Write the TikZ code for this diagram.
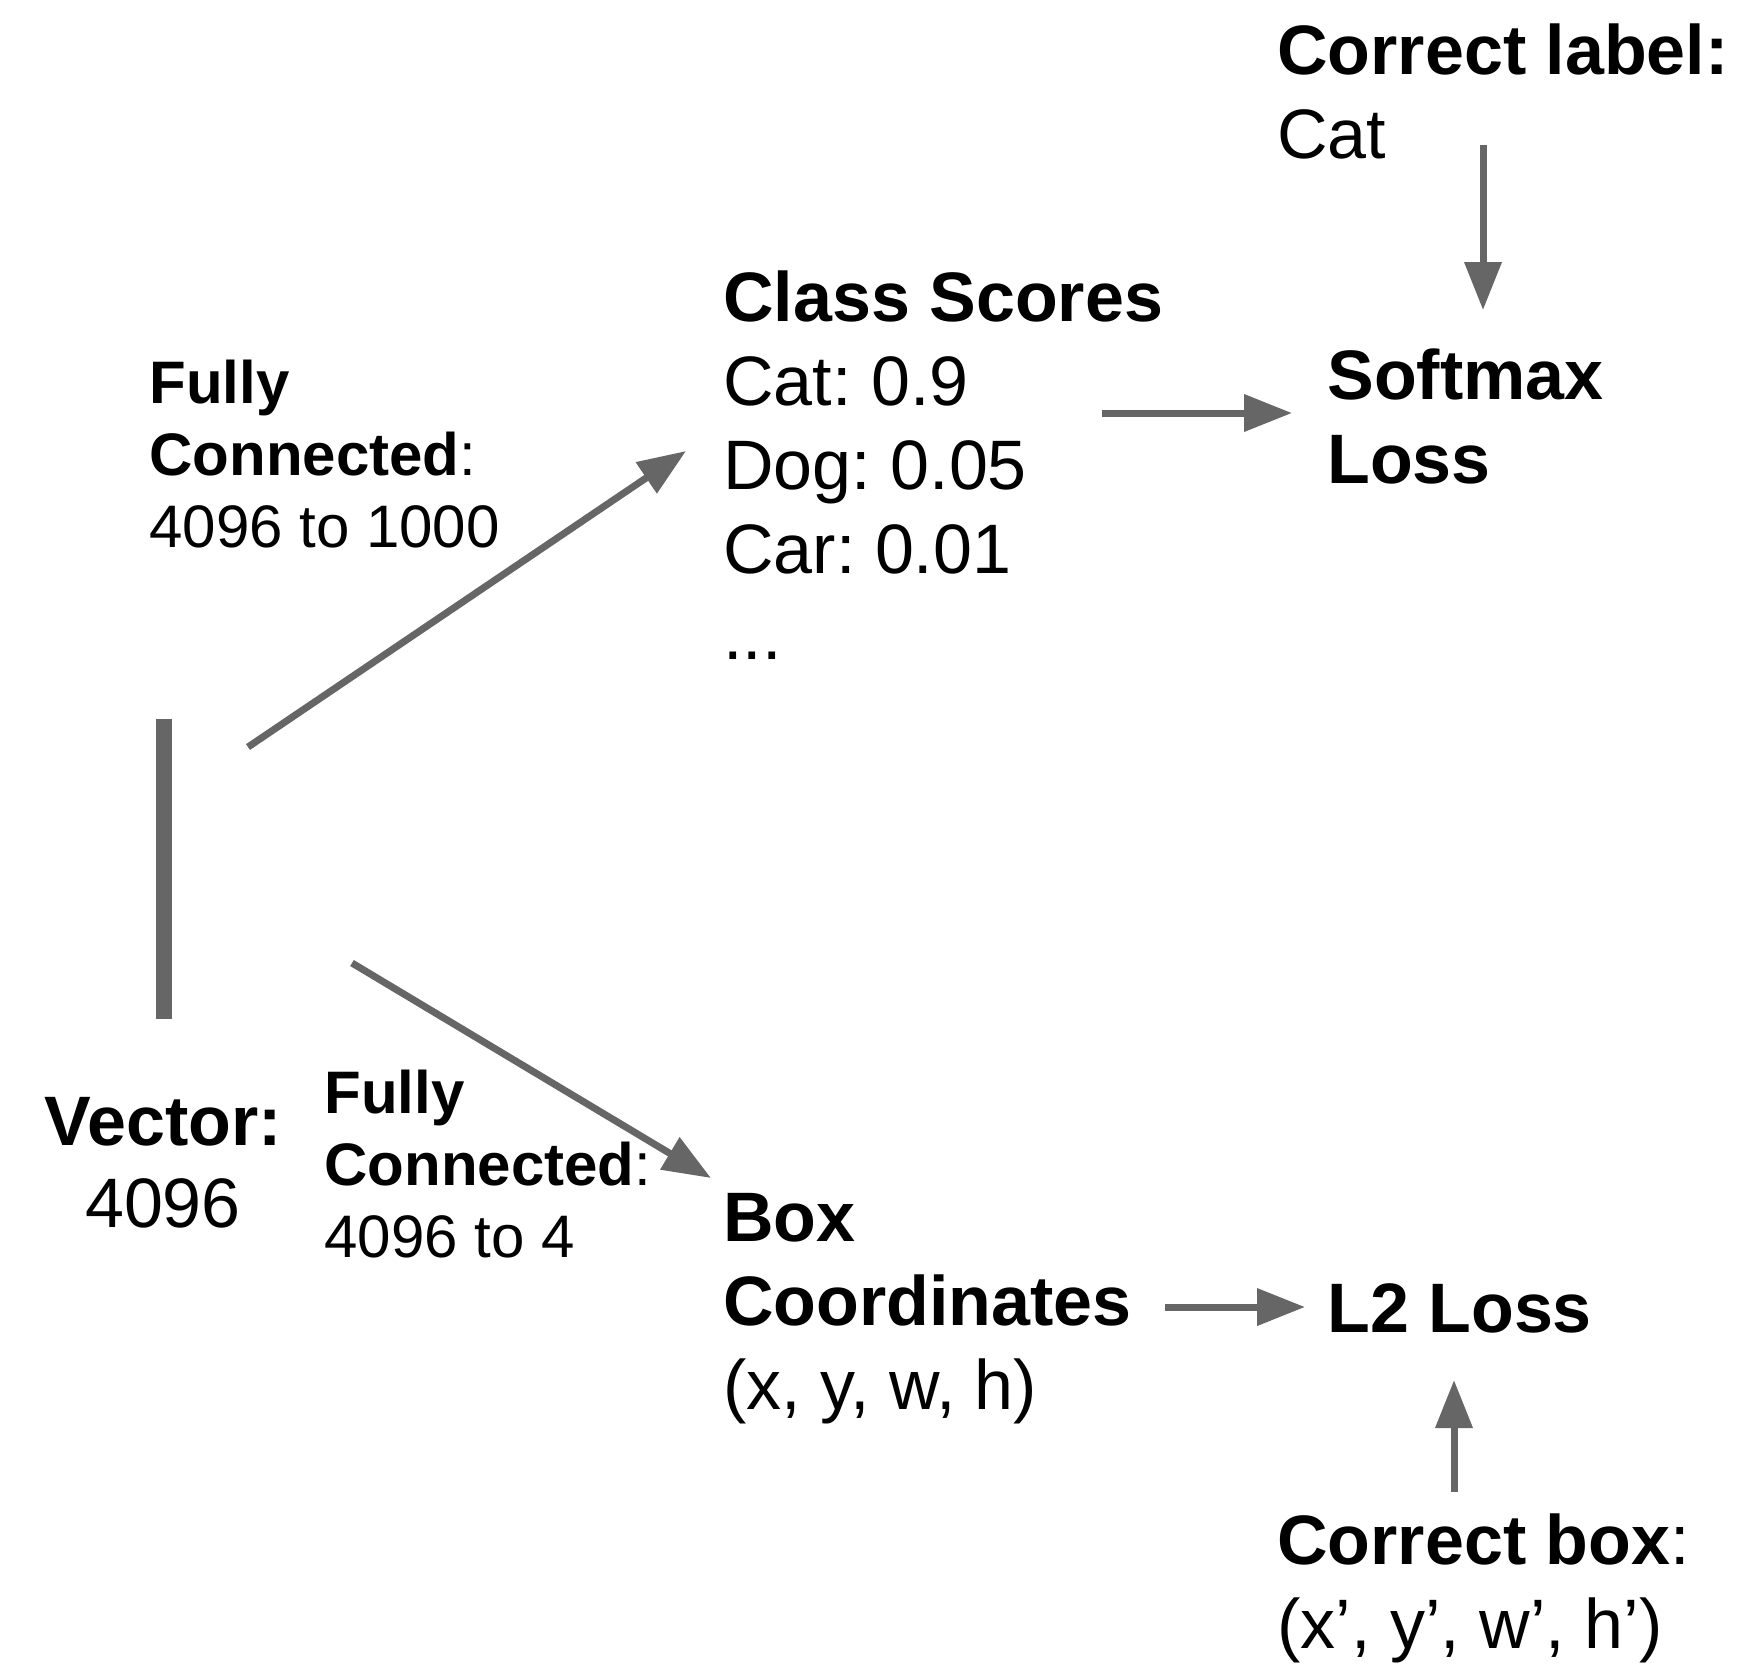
\documentclass[tikz,border=0pt]{standalone}
\usepackage{fontspec}
\setmainfont{Liberation Sans}
\usetikzlibrary{arrows.meta}
\definecolor{arr}{HTML}{666666}
\frenchspacing
\begin{document}
\begin{tikzpicture}[x=0.5pt,y=-0.5pt,
  big/.style={inner sep=0pt, anchor=base west, font=\fontsize{35pt}{42pt}\selectfont},
  mid/.style={inner sep=0pt, anchor=base west, font=\fontsize{30pt}{36pt}\selectfont},
  conn/.style={draw=arr, line width=3.5pt, -{Triangle[length=24pt,width=18pt]}},
  bar/.style={draw=arr, line width=8pt}]
\useasboundingbox (0,0) rectangle (1748,1667);

% Vector bar
\coordinate (bartop) at (164,719);
\coordinate (barbot) at (164,1019);
\draw[bar] (bartop) -- (barbot);

% Vector label
\node[big, anchor=base] (vec1) at (163,1145) {\textbf{Vector:}};
\node[big, anchor=base] (vec2) at (163,1227) {4096};

% Upper FC label
\node[mid] (fcu1) at (149,403) {\textbf{Fully}};
\node[mid] (fcu2) at (149,475) {\textbf{Connected}:};
\node[mid] (fcu3) at (149,547) {4096 to 1000};

% Lower FC label
\node[mid] (fcl1) at (324,1113) {\textbf{Fully}};
\node[mid] (fcl2) at (324,1185) {\textbf{Connected}:};
\node[mid] (fcl3) at (324,1257) {4096 to 4};

% Class scores
\node[big] (cs1) at (723,321) {\textbf{Class Scores}};
\node[big] (cs2) at (723,405) {Cat: 0.9};
\node[big] (cs3) at (723,489) {Dog: 0.05};
\node[big] (cs4) at (723,573) {Car: 0.01};
\node[big] (cs5) at (723,659) {...};

% Softmax loss
\node[big] (sm1) at (1327,399) {\textbf{Softmax}};
\node[big] (sm2) at (1327,483) {\textbf{Loss}};

% Correct label
\node[big] (cl1) at (1277,74) {\textbf{Correct label:}};
\node[big] (cl2) at (1277,158) {Cat};

% Box coordinates
\node[big] (bc1) at (723,1241) {\textbf{Box}};
\node[big] (bc2) at (723,1325) {\textbf{Coordinates}};
\node[big] (bc3) at (723,1409) {(x, y, w, h)};

% L2 loss
\node[big] (l2) at (1327,1332) {\textbf{L2 Loss}};

% Correct box
\node[big] (cb1) at (1277,1564) {\textbf{Correct box}:};
\node[big] (cb2) at (1277,1648) {(x’, y’, w’, h’)};

% Arrow endpoints
\coordinate (a1s) at (248,747);
\coordinate (a1e) at (686,451);
\coordinate (a2s) at (352,963);
\coordinate (a2e) at (711,1178);
\coordinate (a3s) at (1102,413);
\coordinate (a3e) at (1292,413);
\coordinate (a4s) at (1483,145);
\coordinate (a4e) at (1483,310);
\coordinate (a5s) at (1165,1307);
\coordinate (a5e) at (1305,1307);
\coordinate (a6s) at (1454,1492);
\coordinate (a6e) at (1454,1380);

\draw[conn] (a1s) -- (a1e);
\draw[conn] (a2s) -- (a2e);
\draw[conn] (a3s) -- (a3e);
\draw[conn] (a4s) -- (a4e);
\draw[conn] (a5s) -- (a5e);
\draw[conn] (a6s) -- (a6e);
\end{tikzpicture}
\end{document}
